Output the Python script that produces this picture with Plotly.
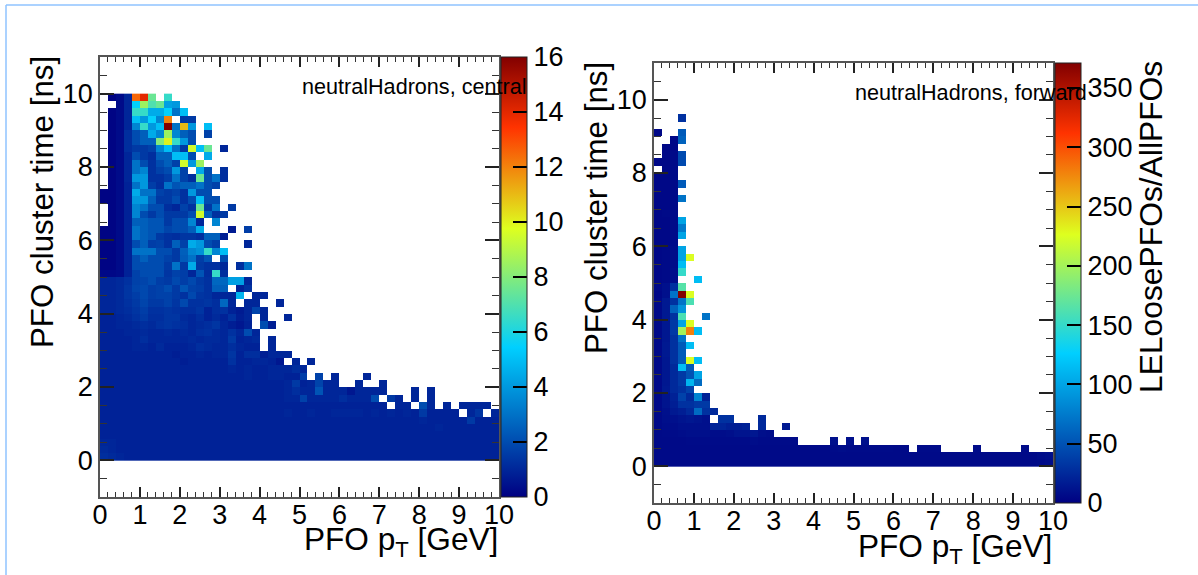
import plotly.graph_objects as go

_ = None
W, H = 1198, 575

# bin centres (0.2 wide bins on both axes)
pt_bins = [0.1, 0.3, 0.5, 0.7, 0.9, 1.1, 1.3, 1.5, 1.7, 1.9, 2.1, 2.3, 2.5, 2.7, 2.9, 3.1, 3.3, 3.5, 3.7, 3.9, 4.1, 4.3, 4.5, 4.7, 4.9,
           5.1, 5.3, 5.5, 5.7, 5.9, 6.1, 6.3, 6.5, 6.7, 6.9, 7.1, 7.3, 7.5, 7.7, 7.9, 8.1, 8.3, 8.5, 8.7, 8.9, 9.1, 9.3, 9.5, 9.7, 9.9]
time_bins = pt_bins

# rows listed from the top (t = 9.8-10) to the bottom (t = 0-0.2)
central_rows = [
 [_,.1,.3,1,12.5,14,7.5,_,6.5],
 [_,_,.3,1,5.5,8.5,7,7.5,4.2,4],
 [_,.1,.3,1,6.5,6.5,4.5,4.5,5.5,3,5],
 [_,.1,.3,1,5,4,5.5,3.5,12,_,1.5,1.5],
 [_,.1,.3,1,3.5,6.5,4,5,16,3,11,4,_,5],
 [_,.1,.3,1.2,2,2.5,4.5,3.5,8.5,3.5,2.5,2,_,1.7],
 [_,.1,.3,1.2,2,2.5,2.5,8,10,6.5,4,2],
 [_,.1,.3,1.2,1.5,1.5,1.7,3.5,5,3,1.5,9.5,5,7.5,_,1],
 [_,.1,.3,1,2,1.5,1.2,2.5,2.5,5,5,2,_,4.5],
 [_,.1,.3,1,3,2,1.3,2,2.5,1.7,9.5,4,8.5],
 [_,.1,.3,1,3,3.5,1.3,1.7,2,4,1.7,_,4.5,2,_,1.2],
 [_,.1,.3,1,4,4,1.3,1.3,1.6,3,1.7,1.2,7.5,2,3,1.2],
 [_,.1,.3,.9,3,4,1.6,1.2,3,2.2,2.5,2.5,3,2,1.7],
 [.1,.1,.3,.9,4.5,3,3,1.7,1.5,1.7,1.3,4,2,2],
 [.1,.1,.3,.9,4,4,2.5,1.5,1.5,2,1.3,2,5,2,2],
 [_,.1,.3,.9,3.5,3,2,2,1.2,1,1.7,1.3,7.5,1.5,3,_,1.5],
 [_,.1,.3,.9,3.5,2,1.5,2,1.5,1.5,1.5,2,9.5,2.5,1.3,1.5],
 [_,.1,.3,.9,2.5,2.5,2.2,2.2,1.5,2,2,3.5,1,_,3.5],
 [.1,.1,.3,.9,3,2.5,2.2,2.2,1.8,2,2,2.5,4.5,_,_,_,.7,_,1.6],
 [.1,.1,.3,.9,3,2.5,2.2,1.5,1.3,1.2,1.4,1.4,1.2,2.5,2.5,.8],
 [.1,.1,.3,.9,2,2.5,1.6,1.7,1.3,2.5,1.7,4.5,4,2,1.6,_,_,_,1],
 [.1,.1,.3,.9,3,3,3,2,2,1.5,2.5,3.5,3.8,6.5,3.5,5],
 [.1,.1,.3,.9,2,2.5,2,2,1.7,1.5,2.4,3,1.6,2.2,_,2],
 [.1,.1,.3,.9,2,2,2,2,1.5,3,1.5,4.5,1.5,1.3,1.3,1,_,1.2,3],
 [.2,.2,.3,.9,1.7,2,2,2,1.4,1.7,1.6,1,2.2,1.2,6.5,1.2],
 [1,1,1.1,1.3,1.7,1.8,2,1.6,1.5,1.9,1.6,1.9,1.5,1.3,2.7,2.7,4.2,4.2,1],
 [1,1,1.1,1.4,1.8,1.9,1.6,1.7,2,1.5,2.2,1.7,1.6,1.3,2.5,2.5,_,.9,1.3],
 [1,1,1.1,1.4,1.6,1.9,1.6,1.7,1.7,1.5,1.3,1.9,1.4,1.3,1,1,1,4.7,_,1,1],
 [1,1,1.1,1.3,1.5,1.8,1.5,1.5,1.7,1.4,1.9,1.3,1.3,1.4,1.2,2.7,1,_,1,1,_,_,1],
 [1,1,1.1,1.2,1.4,1.6,1.3,1.3,1.4,1.3,1.2,1.2,1.4,.9,1.2,1.3,.9,.7,1,1.8,1],
 [.9,.9,1,1.1,1.3,1.5,1.2,1.2,1.4,1.4,1.1,1,1.2,.9,1.1,.9,1.3,.8,1,_,1,_,_,1],
 [.9,.9,1,1,1.1,1.2,1.1,1.3,1.4,1.3,1.2,1,1.1,1.2,1.4,1,.8,.6,.9,_,2,.8],
 [.9,.9,.9,1,1,1.1,1,1,1.1,1,1.1,1,1.2,1.3,1.1,1,1.3,1,2,1],
 [.9,.9,.9,.9,1,1.2,1,1,1,1,1,1.1,1,1.1,1.1,1,1.5,.9,1,1.1,_,1],
 [.9,.9,.9,.9,1,1,.9,1.1,.9,.9,.9,1,1.2,1.1,1,1,1.2,1,.9,.9,_,1],
 [.9,.9,.9,.9,.9,.9,.9,.9,.9,.8,.9,.9,1,.9,1,1,1.4,.9,1.2,1.2,.8,1,1,1],
 [.9,.9,.9,.9,.9,.9,.9,.9,.9,.9,.8,.9,.9,.9,.9,.9,1.3,.9,.9,1,1,.9,.6,_,1,_,1],
 [.9,.9,.9,.9,.9,.9,.9,.9,.9,.9,.9,.9,.9,.9,.9,.9,1,.9,1,.9,.9,1,1,1,1.2,1],
 [.9,.9,.9,.9,.9,.9,.9,.9,.9,.9,.9,.9,.9,.9,.9,.9,.9,.9,1,.9,.9,1,1,.9,.9,1.6,_,1.7,_,1,_,_,_,1],
 [.9,.9,.9,.9,.9,.9,.9,.9,.9,.9,.9,.9,.9,.9,.9,.9,.9,.9,.9,.9,.9,.9,.9,1,1.5,.9,1,1.8,1,1,_,_,1,_,_,1],
 [.9,.9,.9,.9,.9,.9,.9,.9,.9,.9,.9,.9,.9,.9,.9,.9,.9,.9,.9,.9,.9,.9,.9,1,1.2,1,1,2.2,1,1,1,.6,1,1,1,1,_,_,_,1,_,1],
 [.9,.9,.9,.9,.9,.9,.9,.9,.9,.9,.9,.9,.9,.9,.9,.9,.9,.9,.9,.9,.9,.9,.9,1,1,1.7,1,1,1,1,1.2,1,1,1,2,_,1.5,1,_,1,_,1],
 [.9,.9,.9,.9,.9,.9,.9,.9,.9,.9,.9,.9,.9,.9,.9,.9,.9,.9,.9,.9,.9,.9,.9,.9,.9,.9,.9,.9,.9,.9,.9,.9,.9,.9,.9,.9,_,1,1,_,2,1,_,1,_,1,1,1,1],
 [.9,.9,.9,.9,.9,.9,.9,.9,.9,.9,.9,.9,.9,.9,.9,.9,.9,.9,.9,.9,.9,.9,.9,1,.9,.9,1,.9,.9,1,1,1,1,.9,1,.9,1,.9,1,.9,1.5,.9,.9,.9,.9,_,1,1.4,_,1],
 [.9,.9,.9,.9,.9,.9,.9,.9,.9,.9,.9,.9,.9,.9,.9,.9,.9,.9,.9,.9,.9,.9,.9,.9,.9,.9,.9,.9,.9,.9,.9,.9,.9,.9,.9,.9,.9,.9,.9,.9,1,.9,.9,.9,.9,.9,1.5,.9,.9,.9],
 [.9,.9,.9,.9,.9,.9,.9,.9,.9,.9,.9,.9,.9,.9,.9,.9,.9,.9,.9,.9,.9,.9,.9,.9,.9,.9,.9,.9,.9,.9,.9,.9,.9,.9,.9,.9,.9,.9,.9,.9,.9,.9,1,.9,.9,.9,.9,.9,.9,.9],
 [.9,.9,.9,.9,.9,.9,.9,.9,.9,.9,.9,.9,.9,.9,.9,.9,.9,.9,.9,.9,.9,.9,.9,.9,.9,.9,.9,.9,.9,.9,.9,.9,.9,.9,.9,.9,.9,.9,.9,.9,.9,.9,.9,.9,.9,.9,.9,.9,.9,.9],
 [1,1,.9,.9,.9,.9,.9,.9,.9,.9,.9,.9,.9,.9,.9,.9,.9,.9,.9,.9,.9,.9,.9,.9,.9,.9,.9,.9,.9,.9,.9,.9,.9,.9,.9,.9,.9,.9,.9,.9,.9,.9,.9,.9,.9,.9,.9,.9,.9,.9],
 [1.1,1,.9,.9,.9,.9,.9,.9,.9,.9,.9,.9,.9,.9,.9,.9,.9,.9,.9,.9,.9,.9,.9,.9,.9,.9,.9,.9,.9,.9,.9,.9,.9,.9,.9,.9,.9,.9,.9,.9,.9,.9,.9,.9,.9,.9,.9,.9,.9,.9],
 [1.2,1.1,1,.9,.9,.9,.9,.9,.9,.9,.9,.9,.9,.9,.9,.9,.9,.9,.9,.9,.9,.9,.9,.9,.9,.9,.9,.9,.9,.9,.9,.9,.9,.9,.9,.9,.9,.9,.9,.9,.9,.9,.9,.9,.9,.9,.9,.9,.9,.9],
]

forward_rows = [
 [],
 [],
 [_,_,_,30],
 [],
 [5,_,_,55],
 [_,_,5,60],
 [_,5,5],
 [_,5,6,45],
 [5,5,6,45],
 [_,5,6],
 [5,5,6],
 [5,5,6,55],
 [5,5,6],
 [5,5,6,70],
 [5,5,6],
 [5,6,7],
 [5,5,7,100],
 [5,5,7,75],
 [5,5,7,100],
 [5,5,7],
 [5,6,8,100],
 [5,6,8,100,225],
 [5,6,8,115],
 [5,6,9,150],
 [5,6,9,_,_,115],
 [6,10,30,165],
 [5,10,70,371,225],
 [6,15,30,70,160],
 [6,15,60,90],
 [6,15,30,160,_,_,70],
 [6,14,35,100,225],
 [6,14,35,200,280,115],
 [6,14,30,70],
 [6,15,30,55,115],
 [6,15,30,55],
 [6,14,30,55,225,115],
 [6,14,25,115,55],
 [6,14,25,35,50,100],
 [6,14,25,35,110,65],
 [6,15,25,30,40],
 [6,12,20,40,25,80,20],
 [6,12,18,30,30,35,35],
 [6,10,15,18,25,65,30,25],
 [6,9,10,12,14,12,10,_,30,30,_,_,_,25],
 [6,8,8,10,10,10,10,22,22,18,18,20,_,25,_,_,15],
 [6,7,7,8,9,9,9,8,8,9,12,12,14,9,8],
 [6,6,6,6,7,7,7,7,7,7,7,7,8,7,7,7,7,7,_,_,_,_,10,_,10,_,10],
 [6,6,6,6,6,6,6,6,6,6,6,6,6,6,6,6,6,6,6,6,6,6,7,8,7,7,7,7,7,7,6,6,_,7,7,7,_,_,_,_,7,_,_,_,_,_,7],
 [6,6,6,6,6,6,6,6,6,6,6,6,6,6,6,6,6,6,6,6,6,6,6,6,6,6,6,6,6,6,6,6,6,6,6,6,6,6,6,6,6,6,6,6,6,6,6,6,8,9],
 [6,6,6,6,6,6,6,6,6,6,6,6,6,6,6,6,6,6,6,6,6,6,6,6,6,6,6,6,6,6,6,6,6,6,6,6,6,6,6,6,6,6,6,6,6,6,6,6,7,8],
]

central_max = 16
forward_max = 371
central_ticks = [0, 2, 4, 6, 8, 10, 12, 14, 16]
forward_ticks = [0, 50, 100, 150, 200, 250, 300, 350]
central_label = "neutralHadrons, central"
forward_label = "neutralHadrons, forward"
x_title = "PFO p<sub>T</sub> [GeV]"
y_title = "PFO cluster time [ns]"
z_title = "LELoosePFOs/AllPFOs"

palette = [[0.0, "rgb(0,0,130)"], [0.34, "rgb(0,207,255)"], [0.61, "rgb(222,255,31)"],
           [0.84, "rgb(255,51,0)"], [1.0, "rgb(130,0,0)"]]


def grid(rows):
    out = [r + [None] * (50 - len(r)) for r in rows]
    return out[::-1]


FONT = "Liberation Sans, Arial, sans-serif"
fig = go.Figure()


def cbar(x, y_top, y_bot, vals):
    return dict(x=x / W, xanchor="left", xref="paper", y=1 - y_bot / H, yanchor="bottom",
                len=(y_bot - y_top), lenmode="pixels", thickness=26, thicknessmode="pixels",
                xpad=0, ypad=0, outlinewidth=1, outlinecolor="#222", borderwidth=0,
                tickmode="array", tickvals=vals, ticks="inside", ticklen=14, tickwidth=1.5, tickcolor="black",
                tickfont=dict(size=27, color="black", family=FONT))


fig.add_trace(go.Heatmap(x=pt_bins, y=time_bins, z=grid(central_rows), xaxis="x", yaxis="y",
                         colorscale=palette, zmin=0, zmax=central_max, hoverongaps=False,
                         colorbar=cbar(501, 57, 497, central_ticks)))
fig.add_trace(go.Heatmap(x=pt_bins, y=time_bins, z=grid(forward_rows), xaxis="x2", yaxis="y2",
                         colorscale=palette, zmin=0, zmax=forward_max, hoverongaps=False,
                         colorbar=cbar(1055, 63, 503, forward_ticks)))


def xaxis(x0, x1, anchor):
    return dict(domain=[x0 / W, x1 / W], range=[0, 10], anchor=anchor, tick0=0, dtick=1, ticks="inside",
                ticklen=10, tickwidth=1.5, tickcolor="#222", showgrid=False, zeroline=False,
                showline=True, linecolor="#555", linewidth=1.5, mirror="ticks", ticklabelstandoff=-7,
                tickfont=dict(size=27, color="black", family=FONT),
                minor=dict(dtick=0.2, ticks="inside", ticklen=5, tickwidth=1, tickcolor="#333", showgrid=False))


def yaxis(y_top, y_bot, anchor):
    return dict(domain=[1 - y_bot / H, 1 - y_top / H], range=[-1, 11], anchor=anchor, tick0=0, dtick=2,
                ticks="inside", ticklen=14, tickwidth=1.5, tickcolor="#222", showgrid=False, zeroline=False,
                showline=True, linecolor="#555", linewidth=1.5, mirror="ticks",
                tickfont=dict(size=27, color="black", family=FONT),
                minor=dict(dtick=0.5, ticks="inside", ticklen=7, tickwidth=1, tickcolor="#333", showgrid=False))


def text(px, py, s, size, xanchor="left", angle=0):
    return dict(x=px / W, y=1 - py / H, xref="paper", yref="paper", text=s, showarrow=False, xanchor=xanchor,
                yanchor="middle", textangle=angle, font=dict(size=size, color="black", family=FONT))


fig.update_layout(
    width=W, height=H, margin=dict(l=0, r=0, t=0, b=0, autoexpand=False), paper_bgcolor="white", plot_bgcolor="white",
    xaxis=xaxis(100, 499, "y"), yaxis=yaxis(57, 497, "x"),
    xaxis2=xaxis(654, 1053, "y2"), yaxis2=yaxis(63, 503, "x2"),
    annotations=[
        text(300, 87, central_label, 21.6),
        text(853, 92, forward_label, 21.6),
        text(500, 541, x_title, 31.6, "right"),
        text(1054, 548, x_title, 31.6, "right"),
        text(43, 202, y_title, 31.3, "center", -90),
        text(597, 208, y_title, 31.3, "center", -90),
        text(1151, 227, z_title, 31.8, "center", -90),
    ],
    shapes=[
        dict(type="line", xref="paper", yref="paper", x0=6 / W, x1=1, y0=1 - 5 / H, y1=1 - 5 / H,
             line=dict(color="#8fc3ff", width=1.5)),
        dict(type="line", xref="paper", yref="paper", x0=6 / W, x1=6 / W, y0=0, y1=1 - 5 / H,
             line=dict(color="#8fc3ff", width=1.5)),
    ],
)

fig.write_html("out.html", config=dict(displayModeBar=False),
               post_script="document.body.style.margin='0';document.body.style.overflow='hidden';")
